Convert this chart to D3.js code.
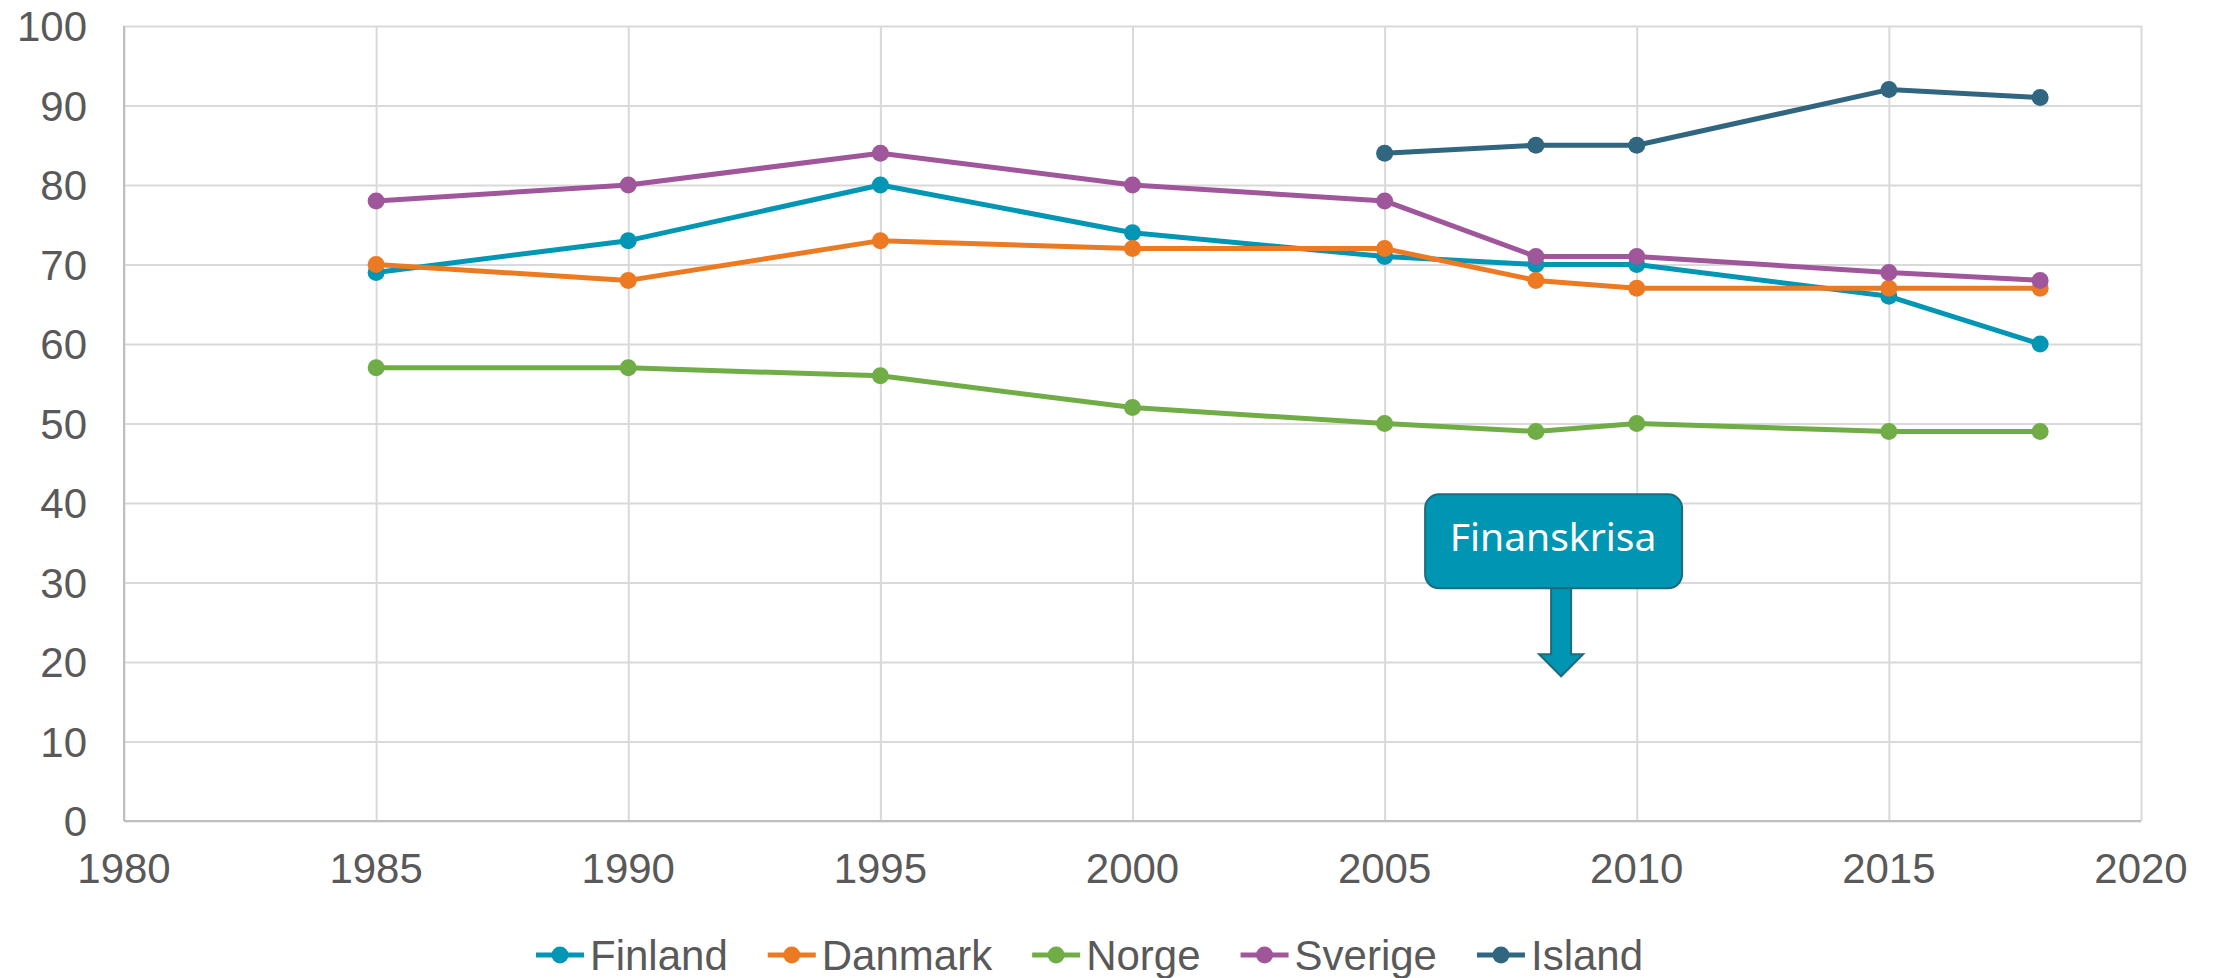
<!DOCTYPE html>
<html lang="no">
<head>
    <meta charset="UTF-8">
    <script src="https://cdn.jsdelivr.net/npm/d3@7"></script>
    <title>Norden</title>
    <style>
        html,
        body {
            margin: 0px;
            padding: 0px;
            background-color: #ffffff;
        }
        svg text {
            font-family: "Liberation Sans", Arial, sans-serif;
            fill: #595959;
        }
    </style>
</head>
<body>
    <div id="chart"></div>

    <script>
        // data
        let years = [1985, 1990, 1995, 2000, 2005, 2008, 2010, 2015, 2018];
        let finland = [69, 73, 80, 74, 71, 70, 70, 66, 60];
        let danmark = [70, 68, 73, 72, 72, 68, 67, 67, 67];
        let norge = [57, 57, 56, 52, 50, 49, 50, 49, 49];
        let sverige = [78, 80, 84, 80, 78, 71, 71, 69, 68];
        let island = [null, null, null, null, 84, 85, 85, 92, 91];
        let names = ['Finland', 'Danmark', 'Norge', 'Sverige', 'Island'];
        let xTicks = [1980, 1985, 1990, 1995, 2000, 2005, 2010, 2015, 2020];
        let yTicks = [0, 10, 20, 30, 40, 50, 60, 70, 80, 90, 100];
        let noteText = 'Finanskrisa';

        let colours = ['#0096b4', '#eb7a23', '#70ad47', '#a0569a', '#306680'];
        let allValues = [finland, danmark, norge, sverige, island];

        let width = 2216;
        let height = 978;

        let margin = {
            top: 26,
            bottom: 157,
            left: 124,
            right: 75
        }

        let svg = d3.select('#chart').append('svg')
            .attr('width', width)
            .attr('height', height);

        let x = d3.scaleLinear().domain([1980, 2020]).range([margin.left, width - margin.right]);
        let y = d3.scaleLinear().domain([0, 100]).range([height - margin.bottom, margin.top]);

        // grid
        svg.append('g')
            .attr('transform', `translate(0,${height - margin.bottom})`)
            .call(d3.axisBottom(x).tickValues(xTicks).tickSize(-(height - margin.top - margin.bottom)).tickFormat(''))
            .call(g => g.select('.domain').remove())
            .call(g => g.selectAll('line').attr('stroke', '#d9d9d9').attr('stroke-width', 2));

        svg.append('g')
            .attr('transform', `translate(${margin.left},0)`)
            .call(d3.axisLeft(y).tickValues(yTicks).tickSize(-(width - margin.left - margin.right)).tickFormat(''))
            .call(g => g.select('.domain').remove())
            .call(g => g.selectAll('line').attr('stroke', '#d9d9d9').attr('stroke-width', 2));

        // axis lines
        svg.append('line')
            .attr('x1', margin.left).attr('x2', margin.left)
            .attr('y1', y(100)).attr('y2', y(0))
            .attr('stroke', '#bfbfbf').attr('stroke-width', 2);
        svg.append('line')
            .attr('x1', x(1980)).attr('x2', x(2020))
            .attr('y1', y(0)).attr('y2', y(0))
            .attr('stroke', '#bfbfbf').attr('stroke-width', 2);

        // tick labels
        svg.append('g')
            .selectAll('text')
            .data(yTicks)
            .join('text')
            .attr('x', margin.left - 37)
            .attr('y', d => y(d) + 15)
            .attr('text-anchor', 'end')
            .attr('font-size', 42)
            .text(d => d);

        svg.append('g')
            .selectAll('text')
            .data(xTicks)
            .join('text')
            .attr('x', d => x(d))
            .attr('y', y(0) + 62)
            .attr('text-anchor', 'middle')
            .attr('font-size', 42)
            .text(d => d);

        // lines and points
        let line = d3.line()
            .defined(d => d[1] !== null)
            .x(d => x(d[0]))
            .y(d => y(d[1]));

        allValues.forEach((vals, i) => {
            let pts = years.map((yr, j) => [yr, vals[j]]);
            svg.append('path')
                .datum(pts)
                .attr('d', line)
                .attr('fill', 'none')
                .attr('stroke', colours[i])
                .attr('stroke-width', 5)
                .attr('stroke-linejoin', 'round');
            svg.append('g')
                .selectAll('circle')
                .data(pts.filter(d => d[1] !== null))
                .join('circle')
                .attr('cx', d => x(d[0]))
                .attr('cy', d => y(d[1]))
                .attr('r', 8.5)
                .attr('fill', colours[i]);
        });

        // callout
        let tipX = x(2008.5);
        let tipY = y(18.2);
        let note = svg.append('g');
        note.append('path')
            .attr('d', `M${tipX - 10},${tipY - 92} L${tipX + 10},${tipY - 92} L${tipX + 10},${tipY - 22}
                        L${tipX + 22},${tipY - 22} L${tipX},${tipY} L${tipX - 22},${tipY - 22}
                        L${tipX - 10},${tipY - 22} Z`)
            .attr('fill', '#0095b3')
            .attr('stroke', '#1d6b7c')
            .attr('stroke-width', 2);
        note.append('rect')
            .attr('x', tipX - 136)
            .attr('y', tipY - 182)
            .attr('width', 257)
            .attr('height', 94)
            .attr('rx', 14)
            .attr('fill', '#0095b3')
            .attr('stroke', '#1d6b7c')
            .attr('stroke-width', 2);
        note.append('text')
            .attr('x', tipX - 8)
            .attr('y', tipY - 125)
            .attr('text-anchor', 'middle')
            .style('font-family', '"Noto Sans", "Open Sans", sans-serif')
            .style('fill', '#ffffff')
            .attr('font-size', 39)
            .text(noteText);

        // legend
        let legend = svg.append('g').attr('transform', `translate(536,${height - 8})`);
        let lx = 0;
        names.forEach((n, i) => {
            let item = legend.append('g').attr('transform', `translate(${lx},0)`);
            item.append('line')
                .attr('x1', 0).attr('x2', 48)
                .attr('y1', -15).attr('y2', -15)
                .attr('stroke', colours[i]).attr('stroke-width', 5);
            item.append('circle')
                .attr('cx', 24).attr('cy', -15).attr('r', 8.5)
                .attr('fill', colours[i]);
            let t = item.append('text')
                .attr('x', 54)
                .attr('y', 0)
                .attr('font-size', 42)
                .text(n);
            lx += 54 + t.node().getComputedTextLength() + 40;
        });
    </script>
</body>
</html>
